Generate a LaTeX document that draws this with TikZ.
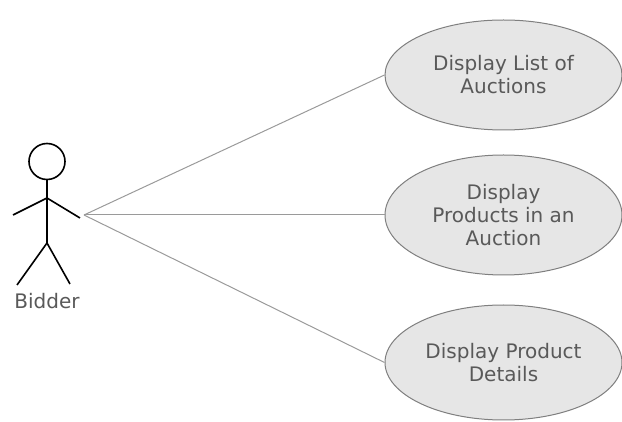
\documentclass[tikz,border=0pt]{standalone}
\usepackage{fontspec}
\setmainfont{DejaVu Sans}
\usetikzlibrary{shapes.geometric}
\definecolor{ucfill}{HTML}{E6E6E6}
\definecolor{ucdraw}{HTML}{7F7F7F}
\definecolor{txt}{HTML}{595959}
\definecolor{assoc}{HTML}{9A9A9A}
\tikzset{
  usecase/.style={ellipse, draw=ucdraw, fill=ucfill, line width=1pt, inner sep=0pt,
    minimum width=237pt, text=txt, align=center,
    font=\fontsize{20}{23}\selectfont},
  stick/.style={draw=black, line width=1.6pt},
  assocline/.style={draw=assoc, line width=1pt},
}
\begin{document}
\begin{tikzpicture}[x=1pt,y=-1pt]
\useasboundingbox (0,0) rectangle (622,422);
% use cases
\node[usecase, minimum height=110pt] (uc1) at (503.5,75) {Display List of\\Auctions};
\node[usecase, minimum height=120pt] (uc2) at (503.5,215) {Display\\Products in an\\Auction};
\node[usecase, minimum height=115pt] (uc3) at (503.5,362.5) {Display Product\\Details};
% actor
\node[circle, draw=black, line width=1.6pt, minimum size=36pt, inner sep=0pt] (head) at (47,161.5) {};
\coordinate (neck) at (47,179.5);
\coordinate (shoulder) at (47,198);
\coordinate (hip) at (47,243);
\draw[stick] (head.south) -- (hip);
\draw[stick] (13,215) -- (shoulder) -- (80,218);
\draw[stick] (17,285) -- (hip) -- (70,284);
\node[text=txt, font=\fontsize{20}{23}\selectfont, inner sep=0pt, anchor=base] (bidder) at (47,309) {Bidder};
\coordinate (actor) at (84,215);
% associations
\draw[assocline] (actor) -- (uc1.west);
\draw[assocline] (actor) -- (uc2.west);
\draw[assocline] (actor) -- (uc3.west);
\end{tikzpicture}
\end{document}
